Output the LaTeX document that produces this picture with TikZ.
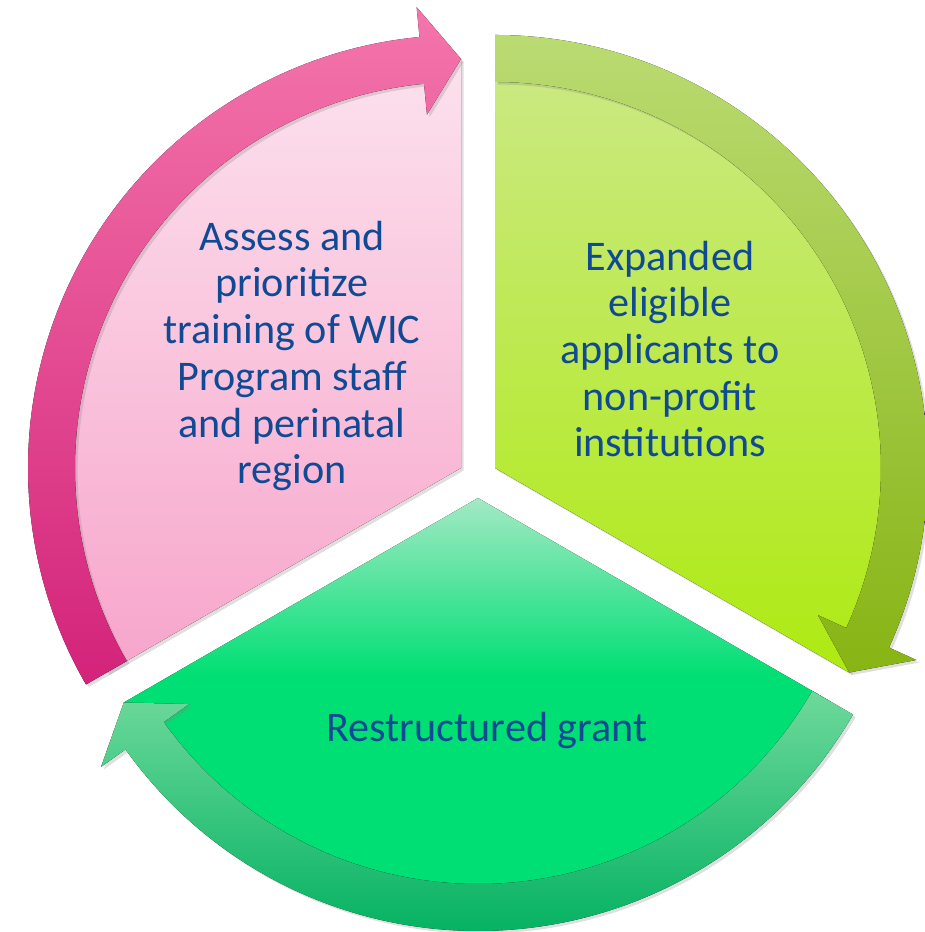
\documentclass[tikz,border=0pt]{standalone}
\usepackage{fontspec}
\setmainfont{Carlito}
\usetikzlibrary{shadows}
\definecolor{Rose1}{HTML}{FCE1ED}
\definecolor{Rose2}{HTML}{F7A5CB}
\definecolor{Rose3}{HTML}{F475AB}
\definecolor{Rose4}{HTML}{D3237A}
\definecolor{Lime1}{HTML}{CBE985}
\definecolor{Lime2}{HTML}{AEEA12}
\definecolor{Lime3}{HTML}{BADB72}
\definecolor{Lime4}{HTML}{88B414}
\definecolor{Mint1}{HTML}{A3E9C4}
\definecolor{Mint2}{HTML}{00DF74}
\definecolor{Mint3}{HTML}{6ED99B}
\definecolor{Mint4}{HTML}{00B060}
\definecolor{Ink}{HTML}{104A94}
\pgfdeclareverticalshading{mintfade}{100bp}{color(0bp)=(Mint2); color(25bp)=(Mint2);
  color(56bp)=(Mint2); color(75bp)=(Mint1); color(100bp)=(Mint1)}

\begin{document}
\begin{tikzpicture}[x=0.02cm,y=0.02cm,font=\fontsize{24}{26.6}\selectfont,
    soft/.style={drop shadow={opacity=0.25,shadow xshift=1.5pt,shadow yshift=-1.5pt}},
    wordbox/.style={text=Ink,align=center}]
  \useasboundingbox (0,0) rectangle (925,932);
  \coordinate (pinkc) at (461,464);
  \coordinate (limec) at (495,464);
  \coordinate (mintc) at (478,434);

  % Pink segment
  \fill[soft,top color=Rose1,bottom color=Rose2] (pinkc) -- ++(90:409)
    arc[start angle=90,end angle=210,radius=409] -- cycle;
  % Lime segment
  \fill[soft,top color=Lime1,bottom color=Lime2] (limec) -- ++(90:409)
    arc[start angle=90,end angle=-30,radius=409] -- cycle;
  % Mint segment
  \fill[soft,shading=mintfade] (mintc) -- ++(-30:409)
    arc[start angle=-30,end angle=-150,radius=409] -- cycle;

  % Pink band, head at the top
  \fill[soft,top color=Rose3,bottom color=Rose4] ([shift={(210:386)}]pinkc)
    arc[start angle=210,end angle=95.5,radius=386]
    -- ([shift={(95.5:355)}]pinkc) -- ([shift={(90:409)}]pinkc)
    -- ([shift={(95.5:463)}]pinkc) -- ([shift={(95.5:433)}]pinkc)
    arc[start angle=95.5,end angle=210,radius=433] -- cycle;
  % Lime band, head on the right
  \fill[soft,top color=Lime3,bottom color=Lime4] ([shift={(90:386)}]limec)
    arc[start angle=90,end angle=-24.5,radius=386]
    -- ([shift={(-24.5:355)}]limec) -- ([shift={(-30:409)}]limec)
    -- ([shift={(-24.5:463)}]limec) -- ([shift={(-24.5:433)}]limec)
    arc[start angle=-24.5,end angle=90,radius=433] -- cycle;
  % Mint band, head on the left
  \fill[soft,top color=Mint3,bottom color=Mint4] ([shift={(-30:386)}]mintc)
    arc[start angle=-30,end angle=-144.5,radius=386]
    -- ([shift={(-144.5:355)}]mintc) -- ([shift={(-150:409)}]mintc)
    -- ([shift={(-144.5:463)}]mintc) -- ([shift={(-144.5:433)}]mintc)
    arc[start angle=-144.5,end angle=-30,radius=433] -- cycle;

  % Texts
  \node[wordbox] (assess) at (292,576) {Assess and\\prioritize\\training of WIC\\Program staff\\and perinatal\\region};
  \node[wordbox] (expanded) at (670,583) {Expanded\\eligible\\applicants to\\non-profit\\institutions};
  \node[wordbox,anchor=base] (grant) at (487,190) {Restructured grant};
\end{tikzpicture}
\end{document}
